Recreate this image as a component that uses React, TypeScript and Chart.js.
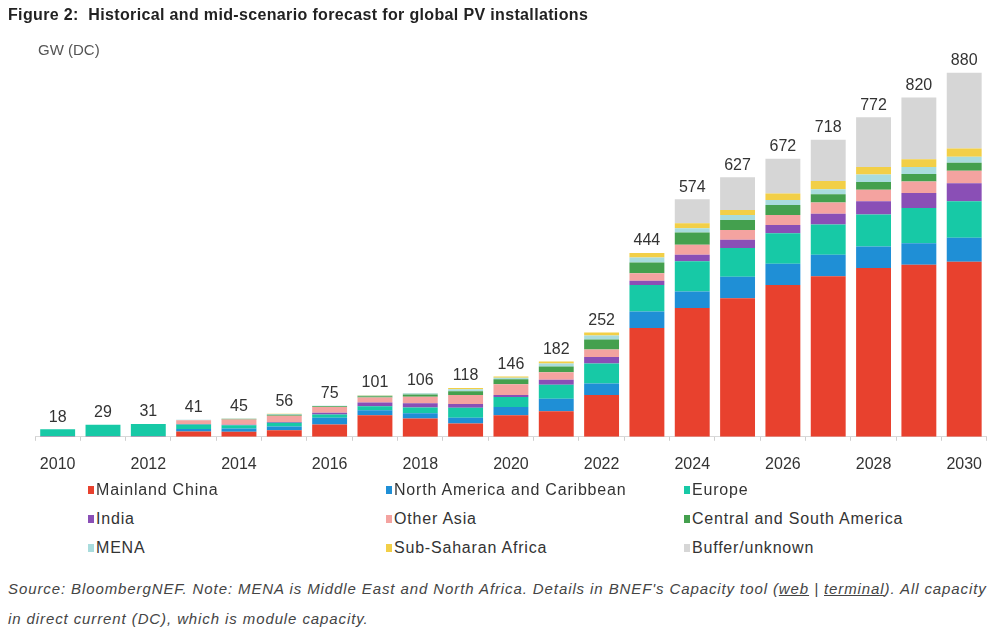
import React, { useEffect, useRef } from "react";
import { Chart, registerables } from "chart.js";

Chart.register(...registerables);

const years = ["2010","2011","2012","2013","2014","2015","2016","2017","2018","2019","2020","2021","2022","2023","2024","2025","2026","2027","2028","2029","2030"];

const mainlandChina = [1, 1, 1, 13, 12, 16, 30, 52, 44, 32, 52, 62, 101, 263, 311, 335, 367, 388, 408, 416, 423];
const northAmerica = [1, 1, 1, 6, 8, 9, 16, 12, 13, 14, 20, 30, 28, 40, 40, 52, 51, 52, 52, 52, 58];
const europe = [16, 27, 29, 11, 8, 9, 8, 10, 14, 24, 24, 34, 48, 64, 73, 69, 74, 73, 77, 85, 88];
const india = [0, 0, 0, 1, 1, 2, 4, 9, 10, 9, 5, 12, 16, 10, 16, 20, 20, 26, 32, 36, 44];
const otherAsia = [0, 0, 0, 9, 13, 15, 14, 12, 16, 22, 26, 18, 18, 18, 24, 24, 24, 27, 28, 28, 30];
const centralSouthAmerica = [0, 0, 0, 0, 1, 2, 2, 3, 5, 9, 12, 14, 24, 26, 30, 24, 24, 20, 19, 18, 19];
const mena = [0, 0, 0, 1, 1, 2, 1, 2, 3, 5, 4, 7, 10, 12, 10, 12, 12, 12, 18, 17, 15];
const subSaharanAfrica = [0, 0, 0, 0, 1, 1, 0, 1, 1, 3, 3, 5, 7, 11, 12, 12, 16, 20, 18, 19, 20];
const bufferUnknown = [0, 0, 0, 0, 0, 0, 0, 0, 0, 0, 0, 0, 0, 0, 58, 79, 84, 100, 120, 149, 183];

const seriesNames = ["Mainland China", "North America and Caribbean", "Europe", "India", "Other Asia", "Central and South America", "MENA", "Sub-Saharan Africa", "Buffer/unknown"];
const seriesValues = [mainlandChina, northAmerica, europe, india, otherAsia, centralSouthAmerica, mena, subSaharanAfrica, bufferUnknown];
const seriesColors = ["#E8412E", "#1F8FD6", "#17C9A6", "#8A4FB6", "#F4A3A0", "#44A04E", "#A9DCDD", "#F2CF47", "#D6D6D6"];

const FONT = "Arial, 'Liberation Sans', sans-serif";

const totalsPlugin = {
  id: "totals",
  afterDatasetsDraw(chart: any) {
    const ctx = chart.ctx;
    const xs = chart.scales.x;
    const ys = chart.scales.y;
    ctx.save();
    ctx.font = `16px ${FONT}`;
    ctx.fillStyle = "#333";
    ctx.textAlign = "center";
    ctx.textBaseline = "bottom";
    years.forEach((_, i) => {
      const total = seriesValues.reduce((s, arr) => s + arr[i], 0);
      const x = xs.getPixelForValue(i);
      const y = ys.getPixelForValue(total);
      ctx.fillText(String(total), x, y - 4);
    });
    ctx.restore();
  },
};

function ChartCanvas() {
  const ref = useRef<HTMLCanvasElement | null>(null);
  useEffect(() => {
    if (!ref.current) return;
    const chart = new Chart(ref.current, {
      type: "bar",
      data: {
        labels: years,
        datasets: seriesNames.map((name, k) => ({
          label: name,
          data: seriesValues[k],
          backgroundColor: seriesColors[k],
          borderWidth: 0,
          categoryPercentage: 1,
          barPercentage: 0.77,
        })),
      },
      options: {
        animation: false,
        responsive: false,
        maintainAspectRatio: false,
        layout: { padding: { left: 35, right: 0, top: 23, bottom: 0 } },
        plugins: { legend: { display: false }, tooltip: { enabled: false } },
        scales: {
          x: {
            stacked: true,
            grid: { display: true, drawOnChartArea: false, drawTicks: true, tickLength: 4, color: "#cfcfcf", offset: true },
            border: { display: true, color: "#d8d8d8" },
            ticks: {
              autoSkip: false,
              maxRotation: 0,
              padding: 14,
              color: "#333",
              font: { family: FONT, size: 16 },
              callback: (_v: any, i: number) => (i % 2 === 0 ? years[i] : ""),
            },
          },
          y: { stacked: true, display: false, min: 0, max: 1000 },
        },
      },
      plugins: [totalsPlugin],
    });
    return () => chart.destroy();
  }, []);
  return <canvas ref={ref} width={996} height={488} style={{ position: "absolute", left: 0, top: 0, width: 996, height: 488 }} />;
}

export default function App() {
  const legendLeft = [88, 386, 684];
  const legendTop = [490, 519, 548];
  return (
    <div style={{ position: "absolute", left: 0, top: 0, width: 990, height: 630, background: "#fff", fontFamily: FONT, overflow: "hidden" }}>
      <ChartCanvas />
      <div style={{ position: "absolute", left: 8, top: 6, fontSize: 16, letterSpacing: 0.35, fontWeight: "bold", color: "#222", whiteSpace: "nowrap" }}>
        Figure 2:&nbsp; Historical and mid-scenario forecast for global PV installations
      </div>
      <div style={{ position: "absolute", left: 38, top: 41, fontSize: 15, color: "#555", whiteSpace: "nowrap" }}>GW (DC)</div>
      {seriesNames.map((name, k) => (
        <div key={name} style={{ position: "absolute", left: legendLeft[k % 3], top: legendTop[Math.floor(k / 3)] - 10, height: 20, display: "flex", alignItems: "center", whiteSpace: "nowrap", fontSize: 16, letterSpacing: 0.8, color: "#333" }}>
          <span style={{ display: "inline-block", width: 6, height: 8, background: seriesColors[k], marginRight: 2 }} />
          <span>{name}</span>
        </div>
      ))}
      <div style={{ position: "absolute", left: 8, top: 574, fontSize: 15, fontStyle: "italic", letterSpacing: 0.9, color: "#444", lineHeight: "30px", whiteSpace: "nowrap" }}>
        Source: BloombergNEF. Note: MENA is Middle East and North Africa. Details in BNEF's Capacity tool (<span style={{ textDecoration: "underline" }}>web</span> | <span style={{ textDecoration: "underline" }}>terminal</span>). All capacity
        <br />
        in direct current (DC), which is module capacity.
      </div>
    </div>
  );
}
